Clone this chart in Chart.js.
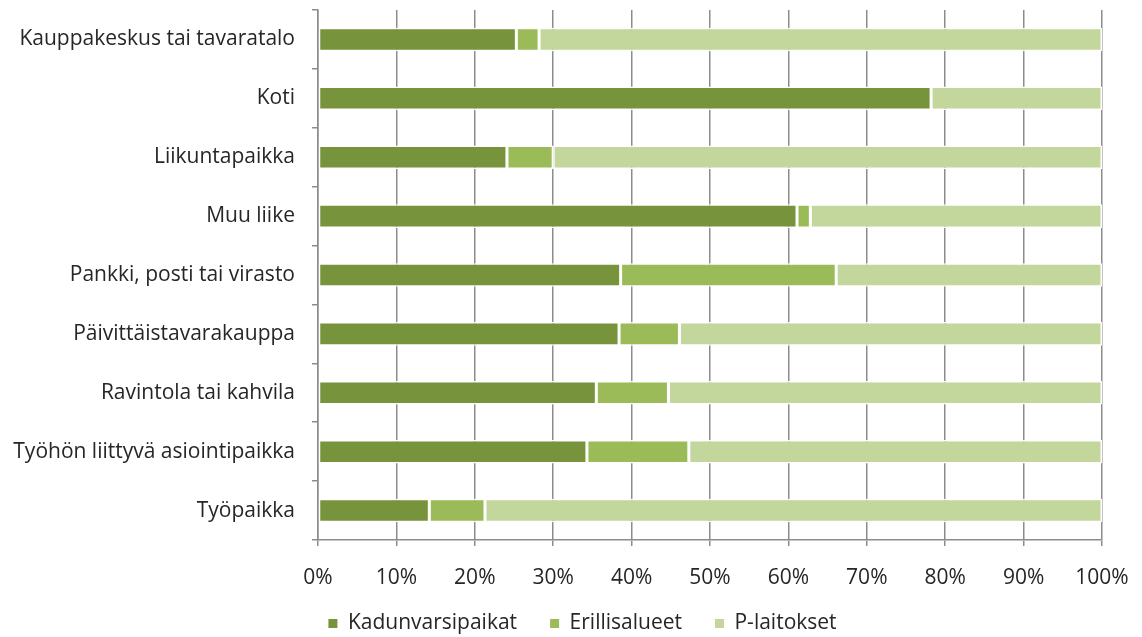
<!DOCTYPE html>
<html>
<head>
<meta charset="utf-8">
<script src="https://cdn.jsdelivr.net/npm/chart.js@4/dist/chart.umd.min.js"></script>
<style>
  html, body { margin: 0; padding: 0; background: #fff; }
  #wrap { width: 1142px; height: 637px; }
</style>
</head>
<body>
<div id="wrap"><canvas id="canvas" width="1142" height="637"></canvas></div>
<script>
// asiointipaikat ja pysäköintipaikan tyyppi (%)
const places = [
  "Kauppakeskus tai tavaratalo",
  "Koti",
  "Liikuntapaikka",
  "Muu liike",
  "Pankki, posti tai virasto",
  "Päivittäistavarakauppa",
  "Ravintola tai kahvila",
  "Työhön liittyvä asiointipaikka",
  "Työpaikka"
];
const kadunvarsi = [25.3, 78.2, 24.1, 61.1, 38.6, 38.4, 35.5, 34.3, 14.2];
const erillis = [2.9, 0, 5.9, 1.7, 27.5, 7.7, 9.2, 13.0, 7.1];
const plaitos = kadunvarsi.map((v, i) => +(100 - v - erillis[i]).toFixed(1));
const xTicks = [0, 10, 20, 30, 40, 50, 60, 70, 80, 90, 100];

const font = "'Open Sans', Lato, sans-serif";
const fontSize = 21;
const gridGray = "#8c8c8c";
const textColor = "#262626";

function dataset(label, data, color) {
  return {
    label: label,
    data: data,
    backgroundColor: color,
    borderColor: "#ffffff",
    borderWidth: 1.5,
    borderSkipped: false,
    categoryPercentage: 1,
    barPercentage: 0.4
  };
}

// place the legend row under the plot, a bit right of the canvas centre
const legendShift = {
  id: "legendShift",
  afterLayout(chart) {
    const lg = chart.legend;
    lg.left = 63;
    lg.right = 1102;
    lg.top = 580;
    lg.bottom = 637;
  }
};

const ctx = document.getElementById("canvas").getContext("2d");
const chart = new Chart(ctx, {
  type: "bar",
  data: {
    labels: places,
    datasets: [
      dataset("Kadunvarsipaikat", kadunvarsi, "#77933c"),
      dataset("Erillisalueet", erillis, "#9bbb59"),
      dataset("P-laitokset", plaitos, "#c3d69b")
    ]
  },
  plugins: [legendShift],
  options: {
    indexAxis: "y",
    responsive: false,
    animation: false,
    layout: { padding: { top: 10, right: 40, left: 0, bottom: 0 } },
    scales: {
      x: {
        stacked: true,
        min: 0,
        max: 100,
        afterBuildTicks: (s) => { s.ticks = xTicks.map(v => ({ value: v })); },
        afterFit: (s) => {
          s.height = 52;
          s.paddingLeft = 0;
          s.paddingRight = 0;
        },
        border: { color: gridGray, width: 1.5 },
        grid: { color: gridGray, lineWidth: 1.5, tickLength: 6 },
        ticks: {
          color: textColor,
          font: { family: font, size: fontSize },
          padding: 19,
          callback: (v) => v + "%"
        }
      },
      y: {
        stacked: true,
        afterFit: (s) => {
          s.width = 318;
          s.paddingTop = 0;
          s.paddingBottom = 0;
        },
        border: { color: gridGray, width: 1.5 },
        grid: {
          offset: true,
          drawOnChartArea: false,
          color: gridGray,
          lineWidth: 1.5,
          tickLength: 6
        },
        ticks: {
          color: textColor,
          font: { family: font, size: fontSize },
          padding: 17
        }
      }
    },
    plugins: {
      tooltip: { enabled: false },
      legend: {
        position: "bottom",
        maxHeight: 45,
        labels: {
          color: textColor,
          font: { family: font, size: fontSize },
          boxWidth: 9,
          boxHeight: 9,
          padding: 33,
          generateLabels: (c) => c.data.datasets.map((d, i) => ({
            text: d.label,
            fillStyle: d.backgroundColor,
            strokeStyle: d.backgroundColor,
            lineWidth: 0,
            fontColor: textColor,
            datasetIndex: i
          }))
        }
      }
    }
  }
});
</script>
</body>
</html>
